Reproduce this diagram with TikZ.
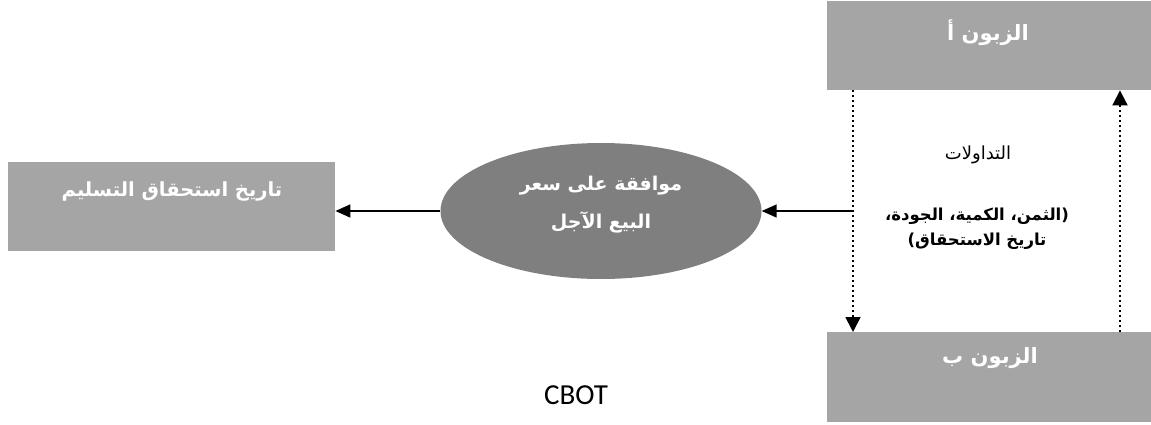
\documentclass[tikz,border=0pt]{standalone}
\usepackage{fontspec}
\usetikzlibrary{shapes.geometric,arrows.meta}
\TeXXeTstate=1
\newfontfamily\arabicfont[Script=Arabic]{DejaVu Sans}
\newfontfamily\cbotfont{Carlito}
\definecolor{boxgray}{HTML}{A5A5A5}
\definecolor{ellgray}{HTML}{7F7F7F}
\begin{document}
\begin{tikzpicture}[x=1pt,y=-1pt,
  graybox/.style={rectangle,fill=boxgray,draw=none,inner sep=0pt,anchor=north west},
  boxtext/.style={text=white,font=\arabicfont\bfseries\fontsize{20}{24}\selectfont,inner sep=0pt},
  midtext/.style={text=black,font=\arabicfont\fontsize{18}{20}\selectfont,inner sep=0pt},
  midbold/.style={text=black,align=center,font=\arabicfont\bfseries\fontsize{16.5}{25}\selectfont,inner sep=0pt},
  solidarrow/.style={line width=1.6pt,-{Triangle[length=15pt,width=13pt]}},
  dotarrow/.style={line width=1.8pt,dash pattern=on 1.8pt off 3.2pt,-{Triangle[length=15pt,width=15pt]}}
]
\useasboundingbox (0,0) rectangle (1151,425);
% boxes
\node[graybox,minimum width=324pt,minimum height=89pt] (boxA) at (827,1) {};
\node[graybox,minimum width=324pt,minimum height=90pt] (boxB) at (827,332) {};
\node[graybox,minimum width=327pt,minimum height=89pt] (boxL) at (8,162) {};
\node[ellipse,fill=ellgray,draw=none,minimum width=321pt,minimum height=136pt,inner sep=0pt] (ell) at (601,211) {};
% texts
\node[boxtext,font=\arabicfont\bfseries\fontsize{21}{24}\selectfont] (tA) at (988,33) {\beginR الزبون أ\endR};
\node[boxtext,font=\arabicfont\bfseries\fontsize{21}{24}\selectfont] (tB) at (990,358) {\beginR الزبون ب\endR};
\node[boxtext,font=\arabicfont\bfseries\fontsize{19.5}{24}\selectfont] (tL) at (172,191) {\beginR تاريخ استحقاق التسليم\endR};
\node[boxtext,align=center,font=\arabicfont\bfseries\fontsize{19}{38}\selectfont] (tE) at (601,205) {\beginR موافقة على سعر\endR\\\beginR البيع الآجل\endR};
\node[midtext] (tT) at (978,155) {\beginR التداولات\endR};
\node[midbold] (tP) at (977,229) {\beginR (الثمن، الكمية، الجودة،\endR\\\beginR تاريخ الاستحقاق)\endR};
\node[font=\cbotfont\fontsize{29}{32}\selectfont,inner sep=0pt] (cbot) at (576,395) {CBOT};
% connectors
\coordinate (dl) at (853,211);
\coordinate (dr) at (1120,211);
\draw[dotarrow] (boxA.south west -| dl) -- (boxB.north west -| dl);
\draw[dotarrow] (boxB.north west -| dr) -- (boxA.south west -| dr);
\draw[solidarrow] (dl) -- (dl -| ell.east);
\draw[solidarrow] (ell.west) -- (ell.west -| boxL.east);
\end{tikzpicture}
\end{document}
